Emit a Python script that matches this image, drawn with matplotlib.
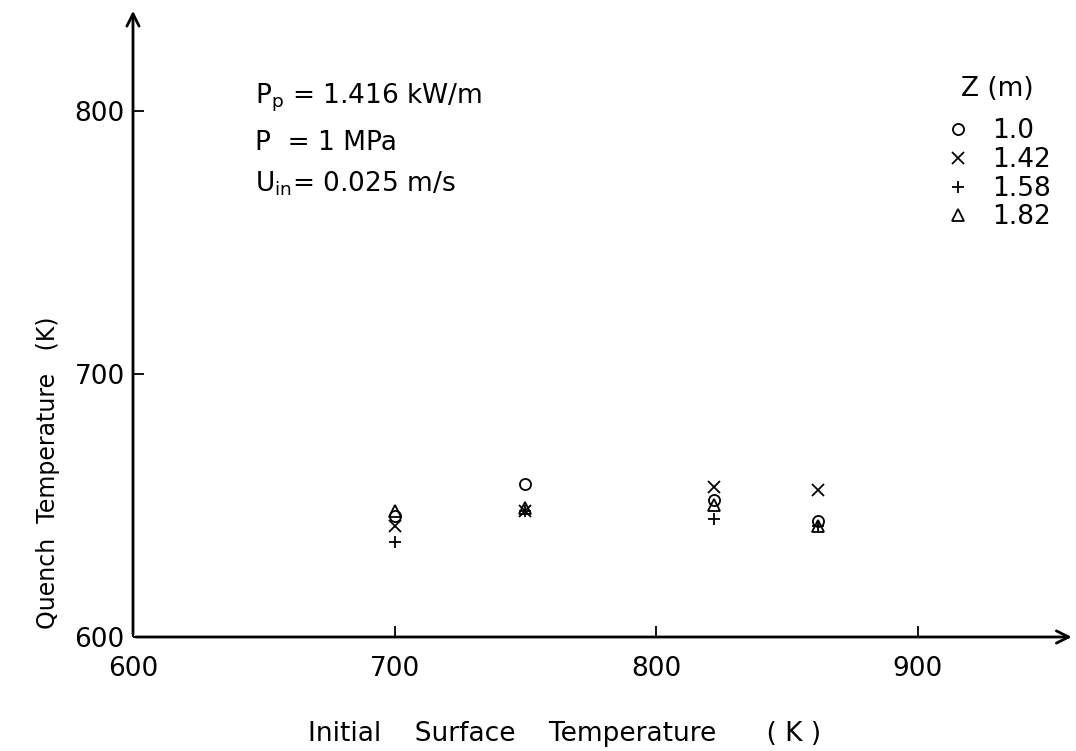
import matplotlib.pyplot as plt
from matplotlib.lines import Line2D

plt.rcParams['font.family'] = ['DejaVu Sans']

# Initial surface temperature (K) for each elevation Z
x_vals = [700, 750, 822, 862]
z_labels = ["1.0", "1.42", "1.58", "1.82"]
quench_z100 = [646, 658, 652, 644]
quench_z142 = [642, 648, 657, 656]
quench_z158 = [636, 648, 645, 642]
quench_z182 = [648, 649, 650, 642]

series = [quench_z100, quench_z142, quench_z158, quench_z182]
markers = ['o', 'x', '+', '^']

fig = plt.figure(figsize=(10.76, 7.51), dpi=100)
ax = fig.add_axes([0.1236, 0.1518, 0.875, 0.8375])

handles = []
for vals, mk, lab in zip(series, markers, z_labels):
    ax.plot(x_vals, vals, linestyle='none', marker=mk, markersize=8,
            markerfacecolor='none', markeredgecolor='black', markeredgewidth=1.3)
    handles.append(Line2D([], [], linestyle='none', marker=mk, markersize=8,
                          markerfacecolor='none', markeredgecolor='black',
                          markeredgewidth=1.3, label=lab))

ax.set_xlim(600, 960)
ax.set_ylim(600, 839)
ax.set_xticks([600, 700, 800, 900])
ax.set_yticks([600, 700, 800])
ax.tick_params(direction='in', length=8, width=1.3, labelsize=19)
ax.tick_params(axis='y', pad=6)
ax.tick_params(axis='x', pad=14)

for s in ax.spines.values():
    s.set_visible(False)

# axes with arrows
ax.annotate('', xy=(1.0, 0), xytext=(0, 0), xycoords='axes fraction',
            arrowprops=dict(arrowstyle='->', lw=2, color='black', mutation_scale=22))
ax.annotate('', xy=(0, 1.0), xytext=(0, 0), xycoords='axes fraction',
            arrowprops=dict(arrowstyle='->', lw=2, color='black', mutation_scale=22))

# conditions
ax.text(0.13, 0.857, r"P$_\mathregular{p}$ = 1.416 kW/m", transform=ax.transAxes, fontsize=19, va='center')
ax.text(0.13, 0.785, "P  = 1 MPa", transform=ax.transAxes, fontsize=19, va='center')
ax.text(0.13, 0.72, r"U$_\mathregular{in}$= 0.025 m/s", transform=ax.transAxes, fontsize=19, va='center')

leg = ax.legend(handles=handles, title="Z (m)", frameon=False, fontsize=19,
                title_fontsize=19, loc='upper right', bbox_to_anchor=(1.0, 0.93),
                handlelength=1.0, handletextpad=0.8, labelspacing=0.1)
leg._legend_box.sep = 12

fig.text(0.525, 0.005, "Initial    Surface    Temperature      ( K )", ha='center', va='bottom', fontsize=19)
fig.text(0.045, 0.37, "Quench  Temperature   (K)", rotation=90, ha='center', va='center', fontsize=17)

fig.savefig('out.png', dpi=100)
